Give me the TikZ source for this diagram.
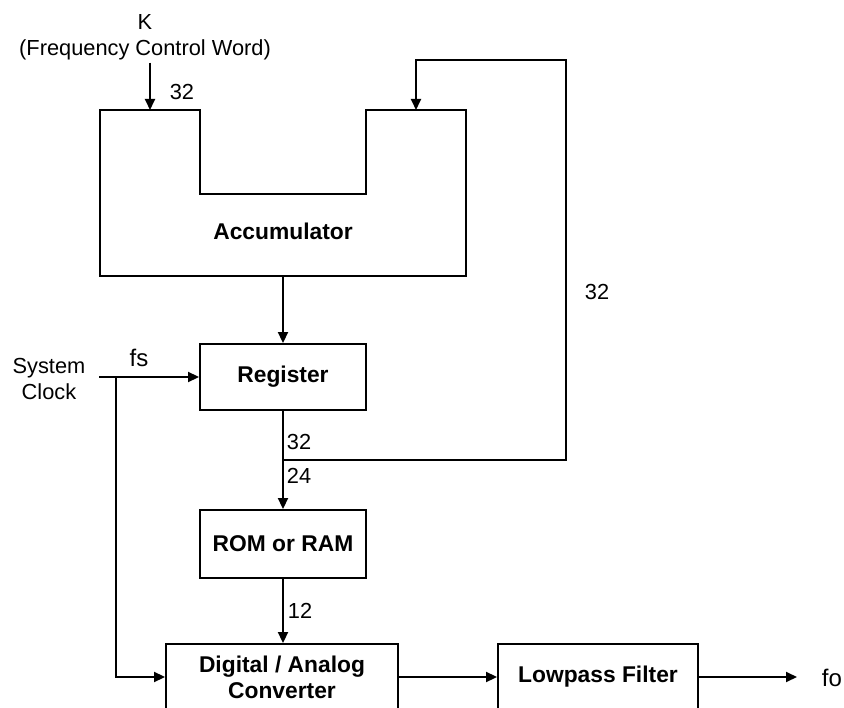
\documentclass[tikz,border=0pt]{standalone}
\usepackage{fontspec}
\setmainfont{Liberation Sans}
\usetikzlibrary{arrows.meta}
\begin{document}
\begin{tikzpicture}[x=1pt,y=-1pt,
  line width=1.9pt,
  conn/.style={-{Triangle[length=11pt,width=10pt]}},
  blk/.style={draw,rectangle,inner sep=0pt,font=\fontsize{22.8}{26}\selectfont\bfseries,align=center},
  lbl/.style={font=\fontsize{21.8}{26}\selectfont,inner sep=0pt},
  sig/.style={font=\fontsize{24}{27}\selectfont,inner sep=0pt},
]
\useasboundingbox (0,0) rectangle (844,708);
\clip (0,0) rectangle (844,708);

% Accumulator (notched block)
\draw (100,110) -- (200,110) -- (200,194) -- (366,194) -- (366,110) -- (466,110) -- (466,276) -- (100,276) -- cycle;
\node[lbl,font=\fontsize{22.8}{26}\selectfont\bfseries,anchor=base] (acc) at (283,240) {Accumulator};
\coordinate (accin1) at (150,110);
\coordinate (accin2) at (416,110);
\coordinate (accout) at (283,276);

% Blocks
\node[blk,minimum width=166pt,minimum height=66pt] (reg) at (283,377) {Register};
\node[blk,minimum width=166pt,minimum height=68pt] (rom) at (283,544) {ROM or RAM};
\node[blk,minimum width=232pt,minimum height=66pt] (dac) at (282,677) {Digital / Analog\\Converter};
\node[blk,minimum width=200pt,minimum height=66pt] (lpf) at (598,677) {Lowpass Filter};

% Frequency control word input
\node[lbl,align=center] (kword) at (145,37) {K\\(Frequency Control Word)};
\draw[conn,shorten <=2pt] (kword.south -| accin1) -- (accin1);
\node[lbl,anchor=base] (k32) at (182,100) {32};

% Accumulator to register
\draw[conn] (accout) -- (reg.north);

% System clock
\node[lbl,align=center] (clk) at (49,379) {System\\Clock};
\coordinate (clk0) at (99,377);
\coordinate (clkj) at (116,377);
\node[sig,anchor=base] (fs) at (139,367) {fs};
\draw[conn] (clk0) -- (reg.west);
\draw[conn] (clkj) |- (dac.west);

% Register output, feedback
\coordinate (junc) at (283,460);
\coordinate (fbtop) at (566,60);
\draw[conn] (reg.south) -- (rom.north);
\draw[conn] (junc) -| (fbtop) -| (accin2);
\node[lbl,anchor=base west] (r32) at (286,450) {32};
\node[lbl,anchor=base west] (r24) at (286,484) {24};
\node[lbl,anchor=base] (fb32) at (597,300) {32};

% ROM to DAC
\draw[conn] (rom.south) -- (rom.south |- dac.north);
\node[lbl,anchor=base west] (r12) at (287,618) {12};

% DAC to filter to output
\draw[conn] (dac.east) -- (lpf.west);
\coordinate (out) at (797,677);
\draw[conn] (lpf.east) -- (out);
\node[sig,anchor=base] (fo) at (832,686) {fo};
\end{tikzpicture}
\end{document}
